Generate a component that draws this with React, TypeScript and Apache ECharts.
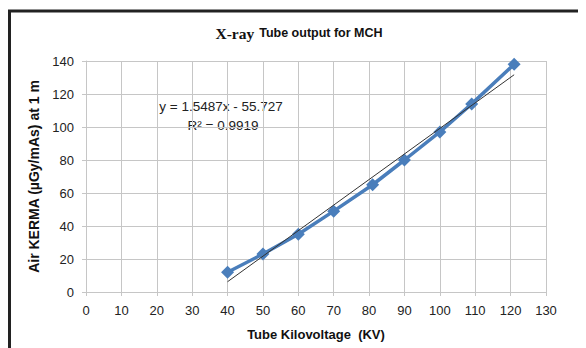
import React, { useEffect, useRef } from "react";
import * as echarts from "echarts";

const kv = [40, 50, 60, 70, 81, 90, 100, 109, 121];
const kerma = [12, 23, 35, 49, 65, 80, 97, 114, 138];
const slope = 1.5487;
const intercept = -55.727;
const rSquared = 0.9919;
const trendX = [40, 121];
const xTicks = { min: 0, max: 130, interval: 10 };
const yTicks = { min: 0, max: 140, interval: 20 };

export default function App() {
  const ref = useRef<HTMLDivElement>(null);
  useEffect(() => {
    if (!ref.current) return;
    const chart = echarts.init(ref.current, undefined, { renderer: "svg" });
    const font = "'Liberation Sans', Arial, sans-serif";
    const gridColor = "#c6c6c6";
    chart.setOption({
      animation: false,
      backgroundColor: "#fff",
      textStyle: { fontFamily: font },
      title: {
        text: "{a|X-ray} {b|Tube output for MCH}",
        left: 286,
        top: 11,
        textAlign: "center",
        textStyle: {
          rich: {
            a: { fontFamily: "'Liberation Serif', serif", fontWeight: "bold", fontSize: 15.5, color: "#111" },
            b: { fontFamily: font, fontWeight: "bold", fontSize: 12.5, color: "#111" },
          },
        },
      },
      grid: { left: 78, right: 40, top: 53, bottom: 56 },
      xAxis: {
        type: "value",
        min: xTicks.min,
        max: xTicks.max,
        interval: xTicks.interval,
        name: "Tube Kilovoltage  (KV)",
        nameLocation: "middle",
        nameGap: 36,
        nameTextStyle: { fontWeight: "bold", fontSize: 13, color: "#111", fontFamily: font },
        axisLine: { show: true, lineStyle: { color: gridColor } },
        axisTick: { show: true, length: 4, lineStyle: { color: gridColor } },
        axisLabel: { fontSize: 13, color: "#222", margin: 12 },
        splitLine: { show: true, lineStyle: { color: gridColor } },
      },
      yAxis: {
        type: "value",
        min: yTicks.min,
        max: yTicks.max,
        interval: yTicks.interval,
        name: "Air KERMA (µGy/mAs) at 1 m",
        nameLocation: "middle",
        nameGap: 38,
        nameTextStyle: { fontWeight: "bold", fontSize: 14, color: "#111", fontFamily: font },
        axisLine: { show: true, lineStyle: { color: gridColor } },
        axisTick: { show: true, length: 4, lineStyle: { color: gridColor } },
        axisLabel: { fontSize: 13, color: "#222", margin: 12 },
        splitLine: { show: true, lineStyle: { color: gridColor } },
      },
      series: [
        {
          type: "line",
          data: kv.map((x, i) => [x, kerma[i]]),
          symbol: "diamond",
          symbolSize: 13,
          itemStyle: { color: "#4a7ebb" },
          lineStyle: { color: "#4a7ebb", width: 3.5 },
          z: 2,
        },
        {
          type: "line",
          data: trendX.map((x) => [x, slope * x + intercept]),
          symbol: "none",
          lineStyle: { color: "#333", width: 1 },
          z: 3,
        },
      ],
      graphic: [
        {
          type: "rect",
          shape: { x: 1.5, y: 3, width: 700, height: 500 },
          style: { fill: "none", stroke: "#222", lineWidth: 3 },
          silent: true,
        },
        {
          type: "text",
          x: 213,
          y: 98,
          style: {
            text: `y = ${slope}x - ${Math.abs(intercept)}`,
            font: `13.5px ${font}`,
            fill: "#222",
            align: "center",
            verticalAlign: "middle",
          },
        },
        {
          type: "text",
          x: 215,
          y: 117,
          style: {
            text: `R² = ${rSquared}`,
            font: `13.5px ${font}`,
            fill: "#222",
            align: "center",
            verticalAlign: "middle",
          },
        },
      ],
    });
    return () => chart.dispose();
  }, []);
  return <div ref={ref} style={{ width: 578, height: 340 }} />;
}
